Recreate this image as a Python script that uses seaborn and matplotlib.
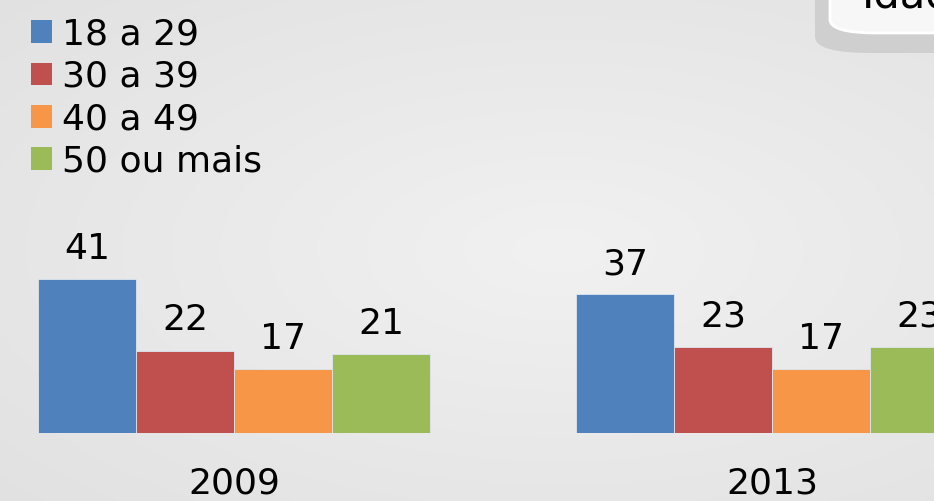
import numpy as np
import pandas as pd
import matplotlib
matplotlib.use("Agg")
import matplotlib.pyplot as plt
from matplotlib.patches import FancyBboxPatch, Patch
import seaborn as sns

anos = ["2009", "2013"]
faixas = ["18 a 29", "30 a 39", "40 a 49", "50 ou mais"]
valores_2009 = [41, 22, 17, 21]
valores_2013 = [37, 23, 17, 23]
cores = ["#4F81BD", "#C0504D", "#F79646", "#9BBB59"]

df = pd.DataFrame({
    "ano": [anos[0]] * 4 + [anos[1]] * 4,
    "faixa": faixas * 2,
    "valor": valores_2009 + valores_2013,
})

sns.set_theme(style="white")
plt.rcParams["font.family"] = ["DejaVu Sans"]
plt.rcParams["text.color"] = "black"

W, H = 934, 501
fig = plt.figure(figsize=(W / 100, H / 100), dpi=100)

# background gradient
bg = fig.add_axes([0, 0, 1, 1], zorder=-10)
yy, xx = np.mgrid[0:1:200j, 0:1:400j]
r = np.sqrt(((xx - 0.6) / 1.0) ** 2 + ((yy - 0.5) / 0.9) ** 2)
grad = 0.945 - 0.075 * np.clip(r, 0, 1)
bg.imshow(np.dstack([grad, grad, grad]), aspect="auto", extent=[0, 1, 0, 1])
bg.set_axis_off()

base_px = 68
scale = 3.75
ax = fig.add_axes([0, base_px / H, 1, (H - base_px) / H])
ax.patch.set_alpha(0)
sns.barplot(data=df, x="ano", y="valor", hue="faixa", hue_order=faixas,
            palette=cores, width=0.729, gap=0, ax=ax, legend=False,
            edgecolor="#dde6f0", linewidth=0.6, saturation=1)
ax.set_xlim(-234 / 538, (W - 234) / 538)
ax.set_ylim(0, (H - base_px) / scale)
for c in ax.containers:
    ax.bar_label(c, fontsize=26, padding=9.5, color="black")
ax.set_xlabel("")
ax.set_ylabel("")
ax.set_yticks([])
ax.tick_params(axis="x", length=0, labelsize=26, pad=24, labelcolor="black")
for s in ax.spines.values():
    s.set_visible(False)

# legend
handles = [Patch(facecolor=c, edgecolor="none") for c in cores]
leg = fig.legend(handles, faixas, loc="upper left", bbox_to_anchor=(17 / W, 1 - 3 / H),
                 frameon=False, fontsize=26, handlelength=0.58, handleheight=0.58,
                 handletextpad=0.28, labelspacing=0.23, borderaxespad=0)
for t in leg.get_texts():
    t.set_color("black")

# decorative title box (top right, cut off)
shadow = FancyBboxPatch((815 / W, 1 - 53 / H), 300 / W, 120 / H,
                        boxstyle="round,pad=0,rounding_size=0.06",
                        transform=fig.transFigure, facecolor="#cfcfcf",
                        edgecolor="none", zorder=5, mutation_aspect=H / W)
fig.patches.append(shadow)
box = FancyBboxPatch((830 / W, 1 - 33 / H), 300 / W, 100 / H,
                     boxstyle="round,pad=0,rounding_size=0.05",
                     transform=fig.transFigure, facecolor="#f7f7f7",
                     edgecolor="white", linewidth=2, zorder=6, mutation_aspect=H / W)
fig.patches.append(box)
fig.text(862 / W, 1 - 8 / H, "Idade", fontsize=30, color="black",
         va="baseline", ha="left", zorder=7)

fig.savefig("out.png", dpi=100)
